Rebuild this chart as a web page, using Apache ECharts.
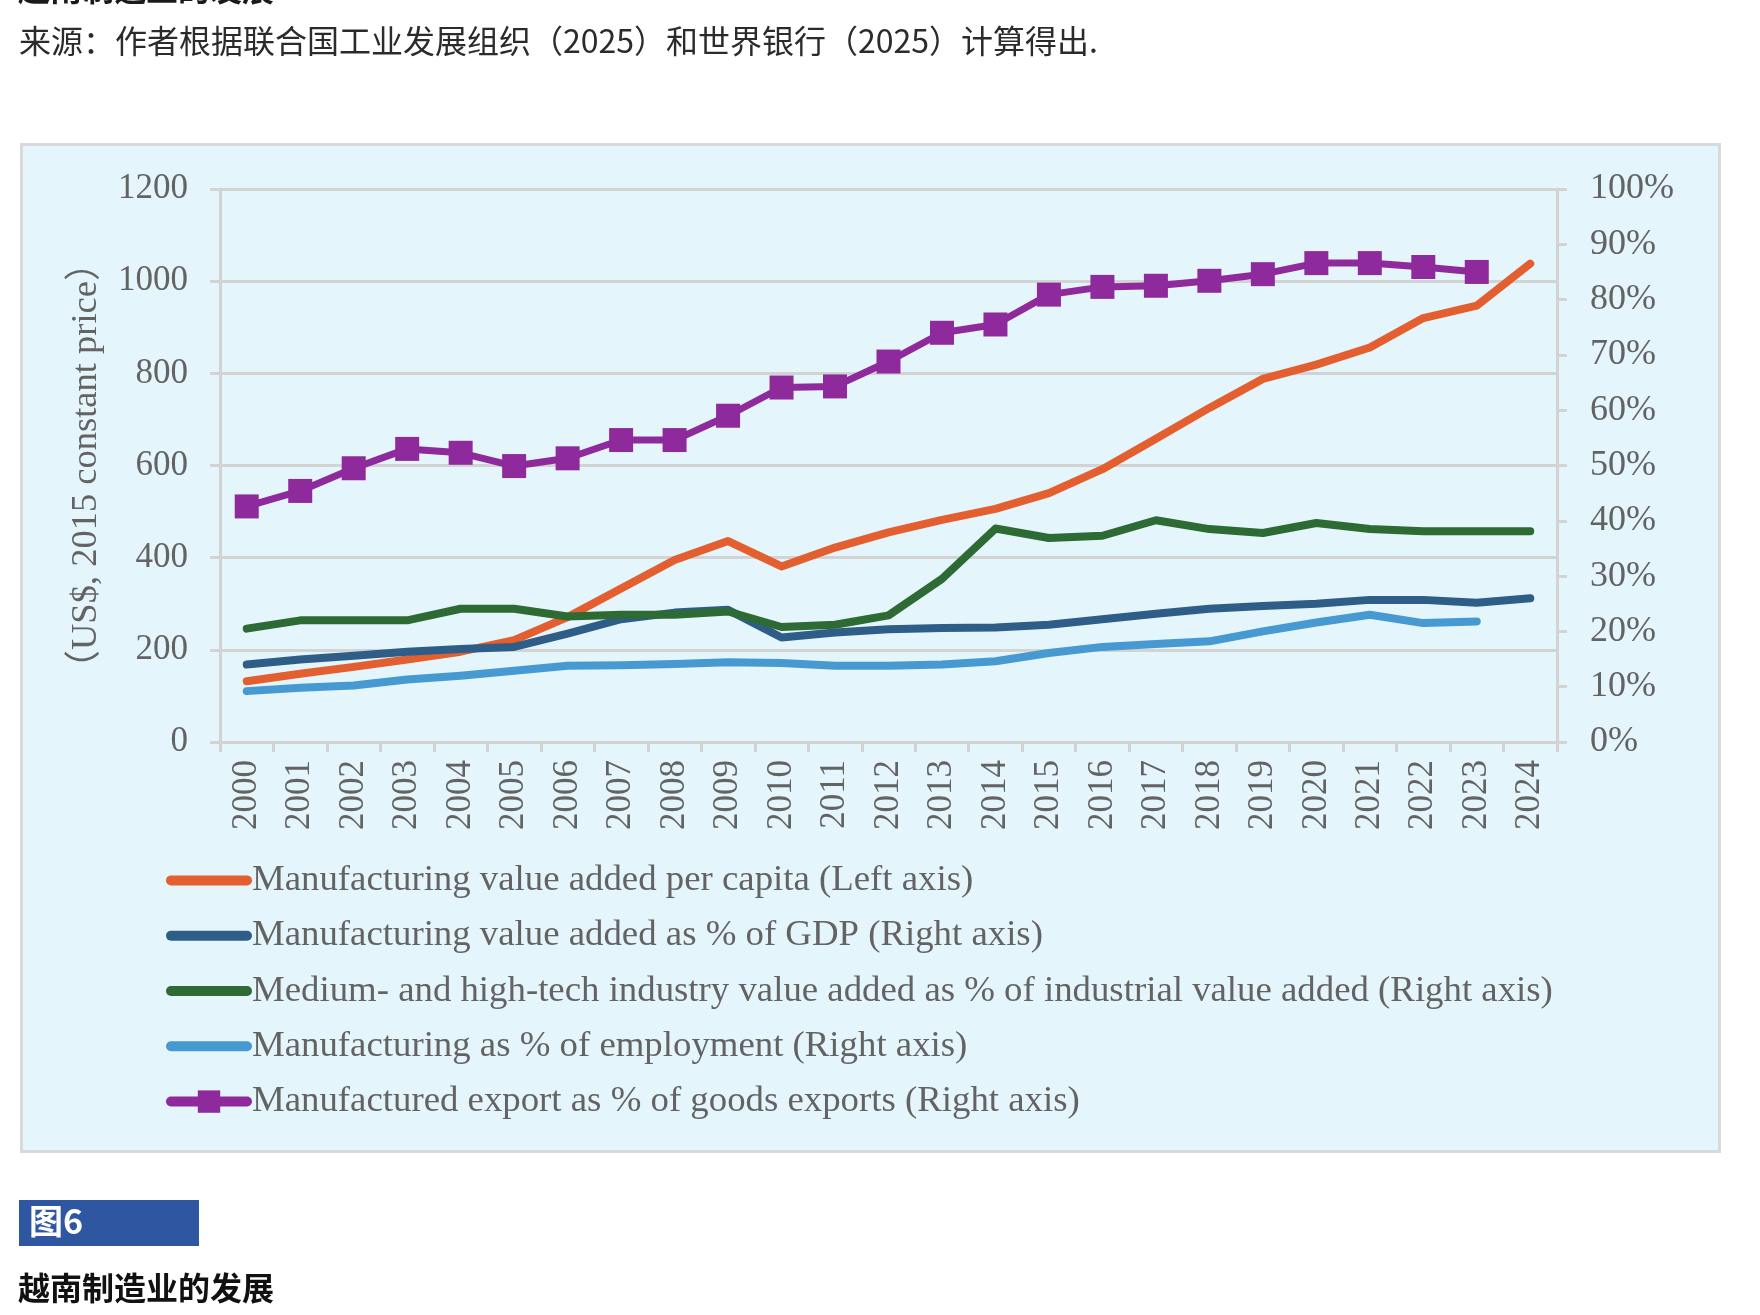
<!DOCTYPE html>
<html>
<head>
<meta charset="utf-8">
<script src="https://cdn.jsdelivr.net/npm/echarts@6/dist/echarts.min.js"></script>
<style>
  html, body { margin: 0; padding: 0; background: #fff; }
  #chart { width: 1760px; height: 1315px; }
</style>
</head>
<body>
<div id="chart"></div>
<script>
  // years on the x axis
  const years = ['2000', '2001', '2002', '2003', '2004', '2005', '2006', '2007', '2008', '2009', '2010', '2011', '2012',
    '2013', '2014', '2015', '2016', '2017', '2018', '2019', '2020', '2021', '2022', '2023', '2024']

  // left axis, US$
  const mvaPerCapita = [132, 148, 163, 179, 196, 221, 271, 333, 395, 436, 381, 422, 455, 482, 506, 540, 592, 658, 725,
    788, 819, 856, 920, 947, 1038]
  // right axis, %
  const mvaGdp = [14.0, 14.9, 15.6, 16.3, 16.8, 17.2, 19.6, 22.2, 23.4, 23.9, 18.9, 19.8, 20.4, 20.6, 20.7, 21.2, 22.2,
    23.2, 24.1, 24.6, 25.0, 25.7, 25.7, 25.2, 26.0]
  const medHighTech = [20.5, 22.0, 22.0, 22.0, 24.1, 24.1, 22.7, 23.0, 23.0, 23.6, 20.8, 21.2, 22.9, 29.5, 38.6, 36.9,
    37.3, 40.1, 38.5, 37.8, 39.6, 38.5, 38.1, 38.1, 38.1]
  const mfgEmployment = [9.2, 9.8, 10.2, 11.3, 12.0, 12.9, 13.8, 13.9, 14.1, 14.4, 14.3, 13.8, 13.8, 14.0, 14.6, 16.1,
    17.2, 17.7, 18.2, 20.0, 21.6, 23.0, 21.5, 21.8, null]
  const mfgExports = [42.6, 45.4, 49.5, 53.0, 52.3, 49.9, 51.3, 54.6, 54.6, 59.0, 64.1, 64.3, 68.8, 74.0, 75.5, 80.9,
    82.3, 82.5, 83.4, 84.6, 86.6, 86.6, 85.9, 85.0, null]

  const leftTicks = [0, 200, 400, 600, 800, 1000, 1200]
  const rightTicks = [0, 10, 20, 30, 40, 50, 60, 70, 80, 90, 100]

  const names = [
    'Manufacturing value added per capita (Left axis)',
    'Manufacturing value added as % of GDP (Right axis)',
    'Medium- and high-tech industry value added as % of industrial value added (Right axis)',
    'Manufacturing as % of employment (Right axis)',
    'Manufactured export as % of goods exports (Right axis)'
  ]
  const colors = ['#E35F2F', '#2E5D87', '#2E6A33', '#4699D1', '#8E2A9B']

  const serif = "'Times New Roman', 'Liberation Serif', 'Noto Sans CJK SC', serif"
  const cjk = "'Noto Sans CJK SC', sans-serif"
  const textGray = '#636363'
  const gridGray = '#D3D3D3'

  const chart = echarts.init(document.getElementById('chart'))

  function lineSeries(i, data, axis) {
    return {
      name: names[i],
      type: 'line',
      yAxisIndex: axis,
      data: data,
      symbol: 'none',
      showSymbol: false,
      connectNulls: false,
      lineStyle: { color: colors[i], width: 8, cap: 'round', join: 'round' },
      itemStyle: { color: colors[i] },
      z: 2 + i
    }
  }

  const series = [
    lineSeries(0, mvaPerCapita, 0),
    lineSeries(1, mvaGdp, 1),
    lineSeries(2, medHighTech, 1),
    lineSeries(3, mfgEmployment, 1),
    {
      name: names[4],
      type: 'line',
      yAxisIndex: 1,
      data: mfgExports,
      symbol: 'rect',
      symbolSize: 24,
      showSymbol: true,
      lineStyle: { color: colors[4], width: 7, join: 'round' },
      itemStyle: { color: colors[4] },
      z: 10
    }
  ]

  chart.setOption({
    animation: false,
    backgroundColor: '#ffffff',
    graphic: [
      // light blue panel behind the chart
      { type: 'rect', left: 20, top: 143, z: -10,
        shape: { width: 1698, height: 1007 },
        style: { fill: '#E5F5FC', stroke: '#D9D9D9', lineWidth: 3 } },
      // cut-off title from the page above
      { type: 'text', left: 18, top: -27,
        style: { text: '越南制造业的发展', font: 'bold 32px ' + cjk, fill: '#1a1a1a' } },
      { type: 'text', left: 19, top: 25,
        style: { text: '来源：作者根据联合国工业发展组织（2025）和世界银行（2025）计算得出.', font: '32px ' + cjk, fill: '#2b2b2b' } },
      { type: 'rect', left: 19, top: 1200,
        shape: { width: 180, height: 46 },
        style: { fill: '#2F56A1' } },
      { type: 'text', left: 29, top: 1204,
        style: { text: '图6', font: 'bold 34px ' + cjk, fill: '#ffffff' } },
      { type: 'text', left: 18, top: 1272,
        style: { text: '越南制造业的发展', font: 'bold 32px ' + cjk, fill: '#111111' } }
    ],
    grid: { left: 220, right: 203, top: 189, bottom: 573 },
    legend: {
      orient: 'vertical',
      left: 161,
      top: 857,
      itemWidth: 76,
      itemHeight: 28,
      itemGap: 18.5,
      textStyle: { fontFamily: serif, fontSize: 36.8, lineHeight: 36, color: textGray },
      lineStyle: { width: 10, cap: 'round' },
      data: names.map((n, i) => i < 4
        ? { name: n, itemStyle: { opacity: 0, color: 'rgba(0,0,0,0)', borderWidth: 0 } }
        : { name: n })
    },
    xAxis: {
      type: 'category',
      data: years,
      boundaryGap: true,
      axisLine: { lineStyle: { color: gridGray, width: 3 } },
      axisTick: { show: true, length: 10, lineStyle: { color: gridGray, width: 3 } },
      axisLabel: { rotate: 90, interval: 0, margin: 18, fontFamily: serif, fontSize: 35, color: textGray }
    },
    yAxis: [
      {
        type: 'value',
        min: leftTicks[0],
        max: leftTicks[leftTicks.length - 1],
        interval: leftTicks[1] - leftTicks[0],
        name: '（US$, 2015 constant price）',
        nameLocation: 'middle',
        nameGap: 115,
        nameTextStyle: { fontFamily: serif, fontSize: 36.5, color: textGray },
        axisLine: { show: true, lineStyle: { color: gridGray, width: 3 } },
        axisTick: { show: true, length: 10, lineStyle: { color: gridGray, width: 3 } },
        axisLabel: { margin: 32, formatter: v => String(v), fontFamily: serif, fontSize: 35, color: textGray },
        splitLine: { show: true, lineStyle: { color: gridGray, width: 3 } }
      },
      {
        type: 'value',
        position: 'right',
        min: rightTicks[0],
        max: rightTicks[rightTicks.length - 1],
        interval: rightTicks[1] - rightTicks[0],
        axisLine: { show: true, lineStyle: { color: gridGray, width: 3 } },
        axisTick: { show: true, length: 10, lineStyle: { color: gridGray, width: 3 } },
        axisLabel: { margin: 33, formatter: '{value}%', fontFamily: serif, fontSize: 36, color: textGray },
        splitLine: { show: false }
      }
    ],
    series: series
  })
</script>
</body>
</html>
